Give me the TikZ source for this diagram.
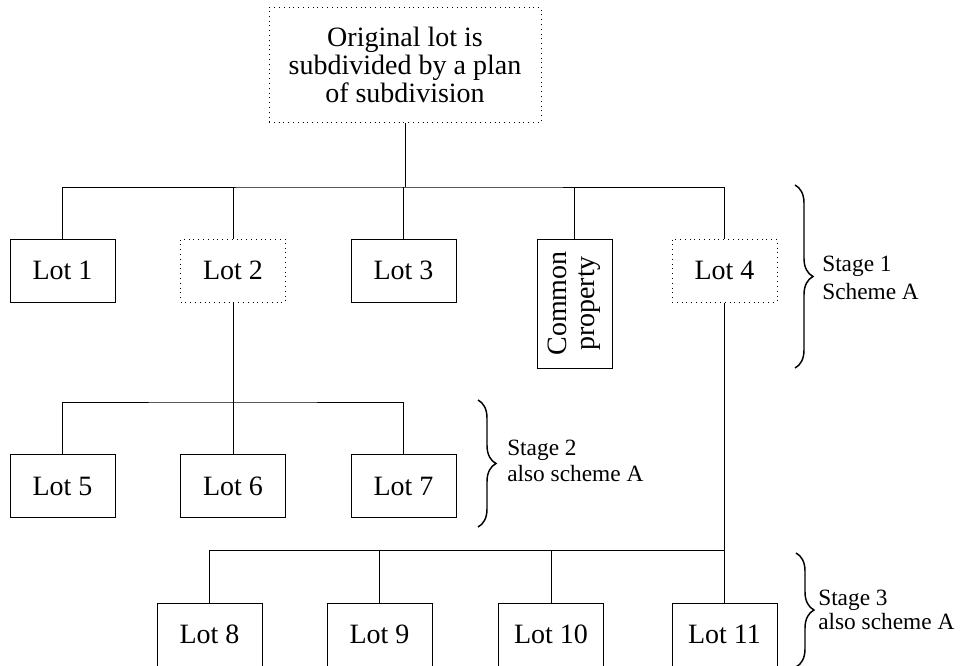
\documentclass[tikz,border=0pt]{standalone}
\usepackage{fontspec}
\setmainfont{Liberation Serif}
\usetikzlibrary{decorations.pathreplacing}

\tikzset{
  lotbox/.style={draw, line width=0.75pt, minimum width=78.75pt, minimum height=47.25pt, inner sep=0pt, font=\fontsize{21}{21}\selectfont},
  lotdot/.style={lotbox, dash pattern=on 0.75pt off 2.85pt},
  stagebrace/.style={decorate, decoration={brace, amplitude=13.5pt}, line width=1.1pt},
  stagetext/.style={anchor=west, align=left, inner sep=0pt}
}

\begin{document}
\begin{tikzpicture}[x=0.75pt,y=0.75pt,yscale=-1,xscale=1]
\useasboundingbox (0,0) rectangle (967,665);

% Text Node
\node (orig) [lotdot, minimum width=204pt, minimum height=86.25pt, align=center] at (405,65) {Original lot is\\subdivided by a plan\\of subdivision};

% Text Node
\node (lot1) [lotbox] at (62.5,270.5) {Lot 1};
% Text Node
\node (lot2) [lotdot] at (233,270.5) {Lot 2};
% Text Node
\node (lot3) [lotbox] at (403.5,270.5) {Lot 3};
% Text Node
\node (cp) [lotbox, rotate=90, minimum width=96.75pt, minimum height=56.25pt, align=center] at (574.5,303.5) {Common\\property};
% Text Node
\node (lot4) [lotdot] at (724.5,270.5) {Lot 4};

% Text Node
\node (lot5) [lotbox] at (62.5,486) {Lot 5};
% Text Node
\node (lot6) [lotbox] at (233,486) {Lot 6};
% Text Node
\node (lot7) [lotbox] at (403.5,486) {Lot 7};

% Text Node
\node (lot8) [lotbox] at (209.5,634.5) {Lot 8};
% Text Node
\node (lot9) [lotbox] at (379.5,634.5) {Lot 9};
% Text Node
\node (lot10) [lotbox] at (551,634.5) {Lot 10};
% Text Node
\node (lot11) [lotbox] at (724.5,634.5) {Lot 11};

\coordinate (b1) at (405,187);
\coordinate (b2) at (233,402);
\coordinate (b3) at (724.5,550);

%Straight Lines
\draw [line width=0.75pt] (orig.south) -- (orig.south |- b1);
\draw [line width=0.75pt] (lot1.north) |- (b1) -| (lot4.north);
\draw [line width=0.75pt] (lot2.north) -- (lot2.north |- b1);
\draw [line width=0.75pt] (lot3.north) -- (lot3.north |- b1);
\draw [line width=0.75pt] (cp.east) -- (cp.east |- b1);
%Straight Lines
\draw [line width=0.75pt] (lot2.south) -- (lot6.north);
\draw [line width=0.75pt] (lot5.north) |- (b2) -| (lot7.north);
%Straight Lines
\draw [line width=0.75pt] (lot4.south) -- (lot11.north);
\draw [line width=0.75pt] (lot8.north) |- (b3);
\draw [line width=0.75pt] (lot9.north) -- (lot9.north |- b3);
\draw [line width=0.75pt] (lot10.north) -- (lot10.north |- b3);

%Braces
\draw [stagebrace] (795,185) -- (795,368);
\draw [stagebrace] (478,400) -- (478,527);
\draw [stagebrace] (796,553) -- (796,667);

% Text Node
\node (st1) [stagetext, font=\fontsize{17.5}{21}\selectfont] at (822,278) {Stage 1\\Scheme A};
% Text Node
\node (st2) [stagetext, font=\fontsize{17.5}{19}\selectfont] at (507,461) {Stage 2\\also scheme A};
% Text Node
\node (st3) [stagetext, font=\fontsize{17.5}{18.5}\selectfont] at (818,610) {Stage 3\\also scheme A};

\end{tikzpicture}
\end{document}
